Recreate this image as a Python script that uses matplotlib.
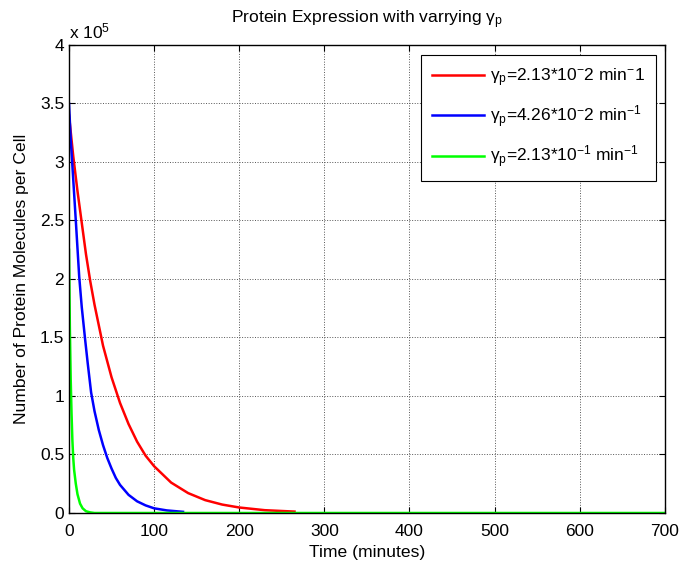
import matplotlib
matplotlib.use('Agg')
import matplotlib.pyplot as plt

plt.rcParams['font.family'] = ['Liberation Sans', 'DejaVu Sans']
plt.rcParams['mathtext.fontset'] = 'custom'
plt.rcParams['mathtext.rm'] = 'Liberation Sans'
plt.rcParams['mathtext.it'] = 'Liberation Sans'

# values (protein molecules, time in minutes)
t_red = [0, 5, 10, 15, 20, 25, 30, 40, 50, 60, 70, 80, 90, 100, 120, 140, 160, 180, 200, 230, 265]
p_red = [3.40e5, 3.05e5, 2.75e5, 2.48e5, 2.21e5, 1.98e5, 1.78e5, 1.43e5, 1.16e5, 0.94e5, 0.76e5,
         0.61e5, 0.49e5, 0.40e5, 0.26e5, 0.17e5, 0.11e5, 0.072e5, 0.047e5, 0.024e5, 0.012e5]

t_blue = [0, 2, 5, 8, 12, 15, 19, 22, 26, 30, 35, 40, 45, 50, 55, 60, 70, 80, 90, 100, 115, 134]
p_blue = [3.50e5, 3.20e5, 2.85e5, 2.50e5, 2.02e5, 1.76e5, 1.48e5, 1.28e5, 1.03e5, 0.87e5, 0.71e5,
          0.58e5, 0.47e5, 0.38e5, 0.30e5, 0.24e5, 0.155e5, 0.10e5, 0.065e5, 0.040e5, 0.022e5, 0.010e5]

t_green = [0, 1, 2, 3, 4, 5, 6, 8, 10, 13, 16, 20, 25, 30, 700]
p_green = [2.25e5, 1.60e5, 1.15e5, 0.85e5, 0.62e5, 0.47e5, 0.37e5, 0.25e5, 0.16e5, 0.08e5,
           0.04e5, 0.015e5, 0.005e5, 0.0, 0.0]

labels = [r'$\mathregular{\gamma_p}$=2.13*10$\mathregular{^{-}}$2 min$\mathregular{^{-}}$1',
          r'$\mathregular{\gamma_p}$=4.26*10$\mathregular{^{-}}$2 min$\mathregular{^{-1}}$',
          r'$\mathregular{\gamma_p}$=2.13*10$\mathregular{^{-1}}$ min$\mathregular{^{-1}}$']

scale = 1e5
fs = 12.6

fig = plt.figure(figsize=(6.79, 5.62), dpi=100)
ax = fig.add_axes([0.1016, 0.0872, 0.8774, 0.8328])

ax.plot(t_red, [v / scale for v in p_red], color='#ff0000', lw=1.8, label=labels[0])
ax.plot(t_blue, [v / scale for v in p_blue], color='#0000ff', lw=1.8, label=labels[1])
ax.plot(t_green, [v / scale for v in p_green], color='#00ff00', lw=1.8, label=labels[2])

ax.set_xlim(0, 700)
ax.set_ylim(0, 4)
ax.set_xticks(range(0, 701, 100))
ax.set_yticks([0, 0.5, 1, 1.5, 2, 2.5, 3, 3.5, 4])
ax.set_yticklabels(['0', '0.5', '1', '1.5', '2', '2.5', '3', '3.5', '4'])
ax.tick_params(direction='in', top=True, right=True, length=4, width=0.8, labelsize=12.5)
ax.tick_params(axis='x', pad=8)
ax.grid(True, linestyle=':', color='#555555', linewidth=0.7)
for s in ax.spines.values():
    s.set_linewidth(1.0)

ax.text(0.0, 1.015, r'x 10$\mathregular{^5}$', transform=ax.transAxes, fontsize=12.5,
        ha='left', va='baseline')

ax.set_title(r'Protein Expression with varrying $\mathregular{\gamma_p}$', fontsize=fs, pad=15.5)
ax.set_xlabel('Time (minutes)', fontsize=fs, labelpad=4)
ax.set_ylabel('Number of Protein Molecules per Cell', fontsize=fs, labelpad=8)

leg = ax.legend(loc='upper right', bbox_to_anchor=(0.985, 0.978), fontsize=12.5,
                fancybox=False, edgecolor='black', framealpha=1, handlelength=3.0,
                handletextpad=0.3, borderpad=0.65, labelspacing=0.8, borderaxespad=0)
leg.get_frame().set_linewidth(0.8)

fig.savefig('out.png', dpi=100)
